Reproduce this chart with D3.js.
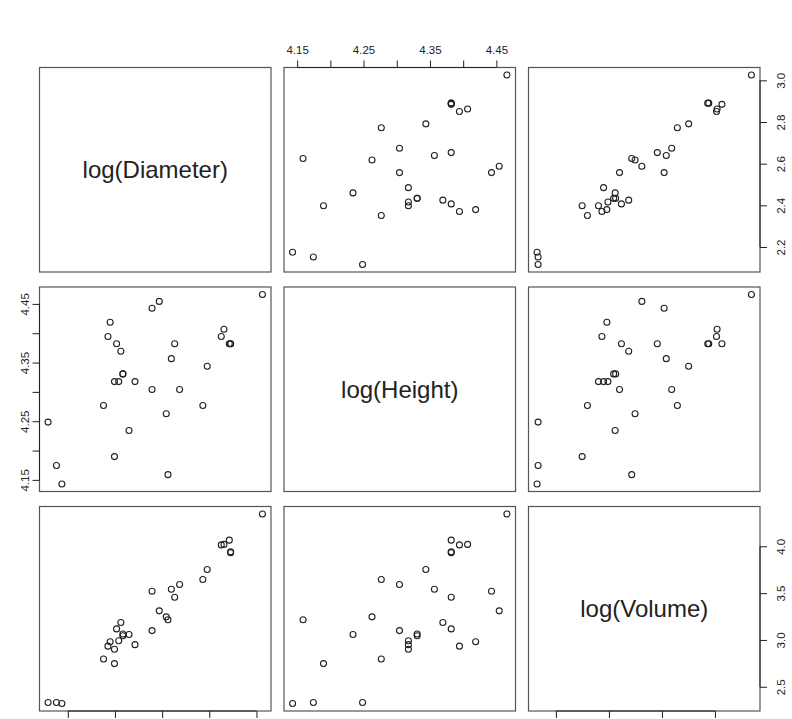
<!DOCTYPE html>
<head>
  <script type="text/javascript" src="https://d3js.org/d3.v7.min.js"></script>
  <style>
    body {
      margin: 0;
      background-color: white;
    }
    text {
      font-family: "Liberation Sans", Arial, sans-serif;
      fill: #222;
    }
    .box {
      fill: none;
      stroke: #555;
      stroke-width: 1.2;
    }
    .pt {
      fill: none;
      stroke: #222;
      stroke-width: 1.1;
    }
  </style>
</head>
<body>
  <svg id="canvas" width="792" height="719"></svg>
</body>
<script>
  // trees data, already logged
  const logDiameter = [2.1163, 2.1518, 2.1748, 2.3514, 2.3702, 2.3795, 2.3979, 2.3979, 2.4069, 2.4159,
                       2.4248, 2.4336, 2.4336, 2.4596, 2.4849, 2.5572, 2.5572, 2.5878, 2.6174, 2.6247,
                       2.6391, 2.6532, 2.6741, 2.7726, 2.7912, 2.8507, 2.8622, 2.8848, 2.8904, 2.8904, 3.0253];
  const logHeight = [4.2485, 4.1744, 4.1431, 4.2767, 4.3944, 4.4188, 4.1897, 4.3175, 4.3820, 4.3175,
                     4.3694, 4.3307, 4.3307, 4.2341, 4.3175, 4.3041, 4.4427, 4.4543, 4.2627, 4.1589,
                     4.3567, 4.3820, 4.3041, 4.2767, 4.3438, 4.3944, 4.4067, 4.3820, 4.3820, 4.3820, 4.4659];
  const logVolume = [2.3321, 2.3321, 2.3224, 2.7973, 2.9339, 2.9806, 2.7473, 2.9014, 3.1179, 2.9907,
                     3.1864, 3.0445, 3.0634, 3.0587, 2.9497, 3.1001, 3.5205, 3.3105, 3.2465, 3.2149,
                     3.5410, 3.4563, 3.5918, 3.6454, 3.7519, 4.0146, 4.0200, 4.0656, 3.9416, 3.9318, 4.3438];

  const varNames = ["log(Diameter)", "log(Height)", "log(Volume)"];
  const diameterTicks = [2.2, 2.4, 2.6, 2.8, 3.0];
  const heightTicks = [4.15, 4.20, 4.25, 4.30, 4.35, 4.40, 4.45];
  const heightTickLabels = ["4.15", "", "4.25", "", "4.35", "", "4.45"];
  const volumeTicks = [2.5, 3.0, 3.5, 4.0];

  const vars = [
    { name: varNames[0], values: logDiameter, ticks: diameterTicks, labels: diameterTicks.map(d => d.toFixed(1)) },
    { name: varNames[1], values: logHeight, ticks: heightTicks, labels: heightTickLabels },
    { name: varNames[2], values: logVolume, ticks: volumeTicks, labels: volumeTicks.map(d => d.toFixed(1)) }
  ];

  const colX = [39.5, 284, 528.5];
  const rowY = [67.5, 287, 506.5];
  const panelW = 231.5;
  const panelH = 204.5;
  const tickLen = 7;

  let svg = d3.select("svg");

  // R style: pad the data range by 4% on each side
  function paddedDomain(values) {
    let ext = d3.extent(values);
    let pad = (ext[1] - ext[0]) * 0.04;
    return [ext[0] - pad, ext[1] + pad];
  }

  let xScales = vars.map((v, j) => d3.scaleLinear().domain(paddedDomain(v.values)).range([colX[j], colX[j] + panelW]));
  let yScales = vars.map((v, i) => d3.scaleLinear().domain(paddedDomain(v.values)).range([rowY[i] + panelH, rowY[i]]));

  draw();

  function draw() {
    for (let i = 0; i < 3; i++) {
      for (let j = 0; j < 3; j++) {
        drawPanel(i, j);
      }
    }
    drawAxes();
  }

  function drawPanel(i, j) {
    let g = svg.append("g");
    g.append("rect")
      .attr("class", "box")
      .attr("x", colX[j])
      .attr("y", rowY[i])
      .attr("width", panelW)
      .attr("height", panelH);

    if (i === j) {
      g.append("text")
        .attr("x", colX[j] + panelW / 2)
        .attr("y", rowY[i] + panelH / 2)
        .attr("text-anchor", "middle")
        .attr("dominant-baseline", "central")
        .style("font-size", "24px")
        .text(vars[i].name);
      return;
    }

    let xv = vars[j].values;
    let yv = vars[i].values;
    g.selectAll("circle")
      .data(d3.range(xv.length))
      .join("circle")
      .attr("class", "pt")
      .attr("cx", k => xScales[j](xv[k]))
      .attr("cy", k => yScales[i](yv[k]))
      .attr("r", 3);
  }

  function styleAxis(g, v) {
    g.select(".domain").attr("stroke", "#222");
    g.selectAll(".tick line").attr("stroke", "#222");
    g.selectAll(".tick text")
      .text((d, k) => v.labels[k])
      .style("font-size", "11.5px")
      .attr("fill", "#222");
  }

  function drawAxes() {
    // top axis over column 2
    let top = svg.append("g")
      .attr("transform", `translate(0,${rowY[0]})`)
      .call(d3.axisTop(xScales[1]).tickValues(vars[1].ticks).tickSize(tickLen).tickSizeOuter(0).tickPadding(7));
    styleAxis(top, vars[1]);
    top.select(".domain").attr("d", `M${xScales[1](4.15)},0H${xScales[1](4.45)}`);

    // bottom axes under columns 1 and 3 (labels fall below the picture, so ticks only)
    [0, 2].forEach(j => {
      let g = svg.append("g")
        .attr("transform", `translate(0,${rowY[2] + panelH})`)
        .call(d3.axisBottom(xScales[j]).tickValues(vars[j].ticks).tickSize(tickLen).tickSizeOuter(0).tickFormat(""));
      g.select(".domain").attr("stroke", "#222");
      g.selectAll(".tick line").attr("stroke", "#222");
      let t = vars[j].ticks;
      g.select(".domain").attr("d", `M${xScales[j](t[0])},0H${xScales[j](t[t.length - 1])}`);
    });

    // left axis on row 2
    let left = svg.append("g")
      .attr("transform", `translate(${colX[0]},0)`)
      .call(d3.axisLeft(yScales[1]).tickValues(vars[1].ticks).tickSize(tickLen).tickSizeOuter(0));
    styleAxis(left, vars[1]);
    left.select(".domain").attr("d", `M0,${yScales[1](4.15)}V${yScales[1](4.45)}`);
    left.selectAll(".tick text")
      .attr("x", 0)
      .attr("dy", null)
      .attr("text-anchor", "middle")
      .attr("dominant-baseline", "central")
      .attr("transform", "translate(-14.5,0) rotate(-90)");

    // right axes on rows 1 and 3
    [0, 2].forEach(i => {
      let g = svg.append("g")
        .attr("transform", `translate(${colX[2] + panelW},0)`)
        .call(d3.axisRight(yScales[i]).tickValues(vars[i].ticks).tickSize(tickLen).tickSizeOuter(0));
      styleAxis(g, vars[i]);
      let t = vars[i].ticks;
      g.select(".domain").attr("d", `M0,${yScales[i](t[0])}V${yScales[i](t[t.length - 1])}`);
      g.selectAll(".tick text")
        .attr("x", 0)
        .attr("dy", null)
        .attr("text-anchor", "middle")
        .attr("dominant-baseline", "central")
        .attr("transform", "translate(21,0) rotate(-90)");
    });
  }
</script>
